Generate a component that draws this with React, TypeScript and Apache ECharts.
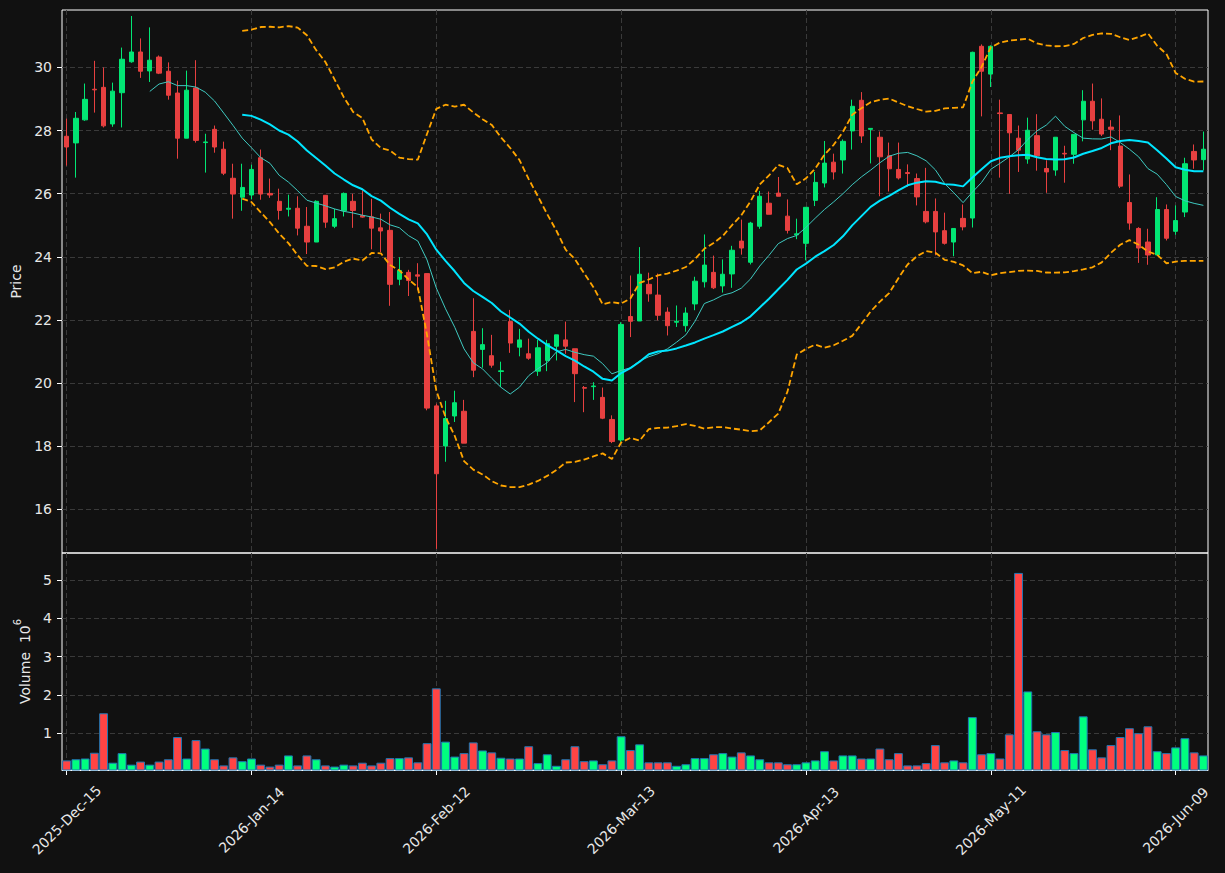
import React, { useEffect, useRef } from "react";
import * as echarts from "echarts";

const dates = [
  "2025-Dec-15","2025-Dec-16","2025-Dec-17","2025-Dec-18","2025-Dec-19","2025-Dec-22","2025-Dec-23","2025-Dec-24","2025-Dec-26","2025-Dec-29","2025-Dec-30","2025-Dec-31",
  "2026-Jan-02","2026-Jan-05","2026-Jan-06","2026-Jan-07","2026-Jan-08","2026-Jan-09","2026-Jan-12","2026-Jan-13","2026-Jan-14","2026-Jan-15","2026-Jan-16","2026-Jan-20","2026-Jan-21","2026-Jan-22","2026-Jan-23","2026-Jan-26","2026-Jan-27","2026-Jan-28","2026-Jan-29","2026-Jan-30",
  "2026-Feb-02","2026-Feb-03","2026-Feb-04","2026-Feb-05","2026-Feb-06","2026-Feb-09","2026-Feb-10","2026-Feb-11","2026-Feb-12","2026-Feb-13","2026-Feb-17","2026-Feb-18","2026-Feb-19","2026-Feb-20","2026-Feb-23","2026-Feb-24","2026-Feb-25","2026-Feb-26","2026-Feb-27",
  "2026-Mar-02","2026-Mar-03","2026-Mar-04","2026-Mar-05","2026-Mar-06","2026-Mar-09","2026-Mar-10","2026-Mar-11","2026-Mar-12","2026-Mar-13","2026-Mar-16","2026-Mar-17","2026-Mar-18","2026-Mar-19","2026-Mar-20","2026-Mar-23","2026-Mar-24","2026-Mar-25","2026-Mar-26","2026-Mar-27","2026-Mar-30","2026-Mar-31",
  "2026-Apr-01","2026-Apr-02","2026-Apr-06","2026-Apr-07","2026-Apr-08","2026-Apr-09","2026-Apr-10","2026-Apr-13","2026-Apr-14","2026-Apr-15","2026-Apr-16","2026-Apr-17","2026-Apr-20","2026-Apr-21","2026-Apr-22","2026-Apr-23","2026-Apr-24","2026-Apr-27","2026-Apr-28","2026-Apr-29","2026-Apr-30",
  "2026-May-01","2026-May-04","2026-May-05","2026-May-06","2026-May-07","2026-May-08","2026-May-11","2026-May-12","2026-May-13","2026-May-14","2026-May-15","2026-May-18","2026-May-19","2026-May-20","2026-May-21","2026-May-22","2026-May-26","2026-May-27","2026-May-28","2026-May-29",
  "2026-Jun-01","2026-Jun-02","2026-Jun-03","2026-Jun-04","2026-Jun-05","2026-Jun-08","2026-Jun-09","2026-Jun-10","2026-Jun-11","2026-Jun-12",
];

const opens = [
  27.82,27.61,28.34,29.31,29.37,28.21,29.20,30.18,30.49,29.89,
  30.33,29.88,29.19,27.76,29.35,27.62,28.04,27.41,26.49,25.89,
  25.96,27.14,26.01,25.76,25.51,25.54,24.97,24.47,25.95,24.97,
  25.46,25.76,25.31,25.27,24.92,24.84,23.29,23.51,23.43,23.47,
  19.28,18.01,18.96,19.11,21.64,21.07,20.87,20.37,21.95,21.14,
  20.93,20.38,20.72,21.17,21.37,21.09,19.86,19.89,19.55,18.85,
  18.20,22.11,21.97,23.13,22.79,22.25,21.93,21.82,22.51,23.21,
  23.51,23.08,23.46,24.50,23.83,24.97,25.70,26.02,25.29,24.70,
  24.43,25.79,26.34,27.00,27.07,27.99,28.96,28.04,27.79,27.20,
  26.77,26.67,26.48,25.44,25.44,24.83,24.47,25.22,25.23,30.67,
  29.79,28.56,28.51,27.76,27.10,27.84,26.80,26.75,27.28,27.25,
  28.34,28.93,28.36,28.11,27.51,25.72,24.90,24.47,24.06,25.50,
  24.81,25.42,27.34,27.08,
];

const highs = [
  28.38,28.59,29.49,30.21,30.00,29.52,30.63,31.63,30.92,31.27,
  30.38,30.16,29.58,29.90,30.23,27.90,28.16,27.65,26.95,26.95,
  26.92,27.40,26.48,26.16,25.97,25.92,25.58,25.79,25.96,25.52,
  26.04,26.00,26.11,25.84,25.37,25.42,23.99,23.59,23.80,23.47,
  19.35,19.44,19.76,19.47,22.69,21.74,21.53,20.68,22.32,21.72,
  21.41,21.37,21.37,21.53,21.95,21.09,19.91,20.03,19.86,18.98,
  21.93,23.41,24.31,23.50,23.47,22.40,22.46,22.40,23.37,24.71,
  24.04,23.92,24.35,25.18,25.11,26.09,26.07,26.53,25.82,25.21,
  25.57,26.69,27.67,27.27,27.72,28.98,29.22,28.08,27.97,27.62,
  27.62,26.93,26.64,26.82,25.85,25.40,24.90,25.66,30.50,30.73,
  30.70,28.98,28.52,28.16,28.41,28.52,27.06,27.79,27.52,27.88,
  29.28,29.49,29.02,28.33,28.48,26.61,24.94,24.89,25.89,25.66,
  25.63,27.14,27.56,27.97,
];

const lows = [
  26.89,26.51,28.31,28.57,28.10,28.12,28.10,30.15,29.67,29.54,
  29.79,28.98,27.11,27.76,27.62,26.67,27.30,26.59,25.21,25.46,
  25.82,25.81,25.87,25.18,25.28,24.68,24.09,24.47,24.92,24.91,
  25.28,24.92,25.24,24.24,24.15,22.45,23.10,22.76,22.94,19.14,
  14.75,17.51,18.77,18.10,20.19,20.49,20.49,19.88,20.96,20.85,
  20.74,20.23,20.38,20.72,20.93,19.40,19.08,19.47,18.86,18.10,
  18.14,21.46,21.97,22.58,21.99,21.51,21.78,21.63,22.31,23.03,
  22.98,22.87,23.02,24.07,23.76,24.89,25.35,25.92,24.74,24.56,
  23.89,25.61,26.20,26.45,26.64,27.40,27.61,26.96,25.92,26.07,
  26.45,26.22,25.63,25.06,24.05,24.39,24.02,24.84,24.93,28.45,
  29.38,26.51,26.00,26.69,26.95,26.73,26.03,26.57,26.35,26.95,
  27.66,28.03,27.83,27.38,26.18,24.86,23.81,23.75,24.06,24.52,
  24.70,25.26,26.79,26.74,
];

const closes = [
  27.48,28.39,28.99,29.29,28.15,29.25,30.26,30.49,29.88,30.23,
  29.82,29.12,27.76,29.28,27.69,27.64,27.48,26.65,25.99,26.20,
  26.77,25.99,25.96,25.47,25.54,24.91,24.47,25.76,25.10,25.21,
  26.01,25.47,25.26,24.91,24.82,23.13,23.57,23.25,23.39,19.21,
  17.13,18.88,19.38,18.10,20.41,21.22,20.57,20.39,21.27,21.37,
  20.79,21.12,21.25,21.53,21.17,20.30,19.84,19.91,18.89,18.15,
  21.86,21.96,23.45,22.83,22.15,21.82,21.96,22.22,23.23,23.74,
  23.02,23.45,24.21,24.28,25.07,25.92,25.35,25.92,24.84,24.73,
  25.57,26.36,26.97,26.69,27.66,28.77,27.83,28.07,27.17,26.79,
  26.50,26.64,25.90,25.11,24.79,24.43,24.90,24.95,30.48,29.88,
  30.67,28.54,27.93,27.38,28.01,27.20,26.69,27.79,27.26,27.88,
  28.93,28.31,27.89,28.04,26.24,25.07,24.28,24.06,25.50,24.59,
  25.15,26.95,27.07,27.41,
];

// volume in millions
const volumes = [
  0.29,0.32,0.34,0.49,1.52,0.23,0.48,0.18,0.26,0.18,
  0.26,0.32,0.90,0.34,0.82,0.60,0.32,0.16,0.37,0.27,
  0.34,0.18,0.13,0.18,0.42,0.16,0.42,0.32,0.16,0.13,
  0.18,0.16,0.23,0.16,0.23,0.35,0.35,0.37,0.24,0.74,
  2.17,0.78,0.39,0.48,0.76,0.55,0.50,0.36,0.34,0.34,
  0.66,0.22,0.45,0.15,0.32,0.66,0.27,0.29,0.19,0.29,
  0.92,0.56,0.71,0.24,0.24,0.24,0.15,0.19,0.35,0.35,
  0.45,0.48,0.39,0.50,0.42,0.32,0.24,0.24,0.19,0.19,
  0.24,0.29,0.53,0.29,0.42,0.42,0.34,0.34,0.60,0.32,
  0.48,0.16,0.16,0.22,0.69,0.24,0.29,0.24,1.42,0.45,
  0.48,0.34,0.97,5.18,2.09,1.05,0.97,1.03,0.56,0.48,
  1.44,0.58,0.37,0.69,0.90,1.13,1.00,1.18,0.53,0.48,
  0.63,0.87,0.50,0.42,
];

const priceTicks = [16, 18, 20, 22, 24, 26, 28, 30];
const volumeTicks = [1, 2, 3, 4, 5];
const dateLabelEvery = 20;
const shortWindow = 10;
const longWindow = 20;
const bandWidthSigma = 2;

function sma(vals: number[], n: number): (number | null)[] {
  return vals.map((_, i) => {
    if (i < n - 1) return null;
    let s = 0;
    for (let j = i - n + 1; j <= i; j++) s += vals[j];
    return s / n;
  });
}

function band(vals: number[], n: number, k: number, sign: number): (number | null)[] {
  return vals.map((_, i) => {
    if (i < n - 1) return null;
    const win = vals.slice(i - n + 1, i + 1);
    const m = win.reduce((a, b) => a + b, 0) / n;
    const v = win.reduce((a, b) => a + (b - m) * (b - m), 0) / n;
    return m + sign * k * Math.sqrt(v);
  });
}

const UP = "#02e674";
const DOWN = "#e74040";
const VUP = "#00ff7f";
const VDOWN = "#ff4444";
const TEXT = "#e8e8e8";
const GRID = "#3a3a3a";
const FONT = "DejaVu Sans";

const everyN = (idx: number) => idx % dateLabelEvery === 0;

export default function App() {
  const ref = useRef<HTMLDivElement>(null);
  useEffect(() => {
    if (!ref.current) return;
    const chart = echarts.init(ref.current, null, { renderer: "svg" });
    const ma10 = sma(closes, shortWindow);
    const ma20 = sma(closes, longWindow);
    const upper = band(closes, longWindow, bandWidthSigma, 1);
    const lower = band(closes, longWindow, bandWidthSigma, -1);
    const gridLine = { show: true, lineStyle: { color: GRID, type: [5, 3], width: 1 } };

    const option: any = {
      animation: false,
      backgroundColor: "#111111",
      textStyle: { fontFamily: FONT },
      grid: [
        { left: 62, top: 10, width: 1146, height: 543, show: true, borderColor: "#ffffff", borderWidth: 1 },
        { left: 62, top: 553, width: 1146, height: 217, show: true, borderColor: "#ffffff", borderWidth: 1 },
      ],
      xAxis: [
        {
          type: "category",
          gridIndex: 0,
          data: dates,
          boundaryGap: true,
          axisLine: { show: false },
          axisTick: { show: false },
          axisLabel: { show: false },
          splitLine: { ...gridLine, interval: everyN, alignWithLabel: true },
        },
        {
          type: "category",
          gridIndex: 1,
          data: dates,
          boundaryGap: true,
          axisLine: { show: true, lineStyle: { color: "#ffffff", width: 1 } },
          axisTick: { show: true, interval: everyN, alignWithLabel: true, length: 5, lineStyle: { color: "#ffffff" } },
          axisLabel: {
            interval: everyN,
            rotate: 45,
            color: TEXT,
            fontSize: 14,
            fontFamily: FONT,
            align: "center",
            verticalAlign: "middle",
            margin: 50,
          },
          splitLine: { ...gridLine, interval: everyN, alignWithLabel: true },
        },
      ],
      yAxis: [
        {
          type: "value",
          gridIndex: 0,
          min: 14.62,
          max: 31.82,
          splitNumber: 8,
          name: "Price",
          nameLocation: "middle",
          nameGap: 36,
          nameTextStyle: { color: TEXT, fontSize: 14, fontFamily: FONT },
          axisLine: { show: false },
          axisTick: { show: true, length: 5, customValues: priceTicks, lineStyle: { color: "#ffffff" } },
          axisLabel: {
            color: TEXT,
            fontSize: 14,
            fontFamily: FONT,
            margin: 10,
            customValues: priceTicks,
            formatter: (v: number) => (priceTicks.indexOf(v) >= 0 ? String(v) : ""),
          },
          splitLine: gridLine,
        },
        {
          type: "value",
          gridIndex: 1,
          min: 0.04,
          max: 5.7,
          splitNumber: 6,
          name: "{b|Volume  10}{sup|6}",
          nameLocation: "middle",
          nameGap: 27,
          nameTextStyle: {
            color: TEXT,
            fontSize: 14,
            fontFamily: FONT,
            rich: {
              b: { color: TEXT, fontSize: 14, fontFamily: FONT, lineHeight: 20, verticalAlign: "bottom" },
              sup: { color: TEXT, fontSize: 10, fontFamily: FONT, lineHeight: 10, verticalAlign: "top" },
            },
          },
          axisLine: { show: false },
          axisTick: { show: true, length: 5, customValues: volumeTicks, lineStyle: { color: "#ffffff" } },
          axisLabel: {
            color: TEXT,
            fontSize: 14,
            fontFamily: FONT,
            margin: 10,
            customValues: volumeTicks,
            formatter: (v: number) => (volumeTicks.indexOf(v) >= 0 ? String(v) : ""),
          },
          splitLine: gridLine,
        },
      ],
      series: [
        {
          type: "candlestick",
          name: "Price",
          xAxisIndex: 0,
          yAxisIndex: 0,
          barWidth: "52%",
          data: dates.map((_, i) => [opens[i], closes[i], lows[i], highs[i]]),
          itemStyle: { color: UP, color0: DOWN, borderColor: UP, borderColor0: DOWN, borderWidth: 1 },
        },
        {
          type: "line",
          name: "MA10",
          xAxisIndex: 0,
          yAxisIndex: 0,
          data: ma10,
          showSymbol: false,
          symbol: "none",
          lineStyle: { color: "#3fc9c0", width: 1 },
        },
        {
          type: "line",
          name: "MA20",
          xAxisIndex: 0,
          yAxisIndex: 0,
          data: ma20,
          showSymbol: false,
          symbol: "none",
          lineStyle: { color: "#00e5ff", width: 2 },
        },
        {
          type: "line",
          name: "Upper",
          xAxisIndex: 0,
          yAxisIndex: 0,
          data: upper,
          showSymbol: false,
          symbol: "none",
          lineStyle: { color: "#ffa500", width: 1.8, type: [6, 3] },
        },
        {
          type: "line",
          name: "Lower",
          xAxisIndex: 0,
          yAxisIndex: 0,
          data: lower,
          showSymbol: false,
          symbol: "none",
          lineStyle: { color: "#ffa500", width: 1.8, type: [6, 3] },
        },
        {
          type: "bar",
          name: "Volume",
          xAxisIndex: 1,
          yAxisIndex: 1,
          barCategoryGap: "4%",
          data: volumes.map((v, i) => ({
            value: v,
            itemStyle: { color: closes[i] >= opens[i] ? VUP : VDOWN },
          })),
          itemStyle: { borderColor: "#1f77b4", borderWidth: 1 },
        },
      ],
    };
    chart.setOption(option);
    return () => chart.dispose();
  }, []);
  return (
    <div
      ref={ref}
      style={{ position: "fixed", left: 0, top: 0, width: 1225, height: 873 }}
    />
  );
}
